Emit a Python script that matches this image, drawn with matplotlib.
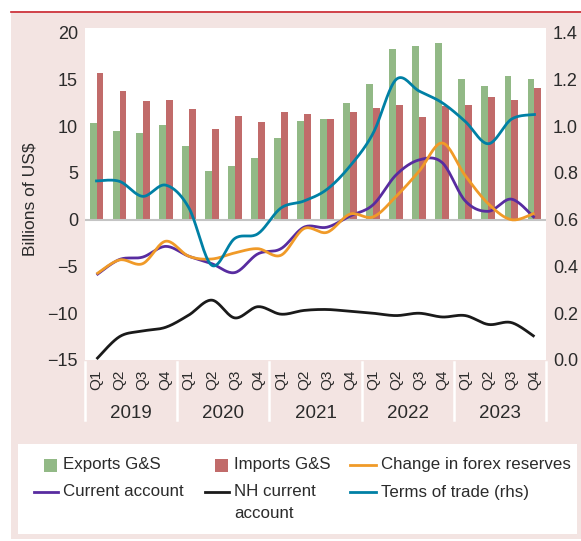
import numpy as np
import matplotlib
matplotlib.use('Agg')
import matplotlib.pyplot as plt
from matplotlib.patches import Rectangle
from matplotlib.lines import Line2D
import matplotlib.transforms as mtransforms

plt.rcParams['font.family'] = ['Liberation Sans', 'DejaVu Sans']

# data, quarterly 2019Q1 - 2023Q4
years = ['2019', '2020', '2021', '2022', '2023']
quarters = ['Q1', 'Q2', 'Q3', 'Q4'] * 5

exports = [10.3, 9.5, 9.3, 10.1, 7.9, 5.2, 5.7, 6.6, 8.7, 10.6,
           10.8, 12.5, 14.5, 18.3, 18.6, 18.9, 15.0, 14.3, 15.4, 15.0]
imports = [15.7, 13.8, 12.7, 12.8, 11.8, 9.7, 11.1, 10.5, 11.5, 11.3,
           10.8, 11.5, 11.9, 12.3, 11.0, 12.2, 12.3, 13.1, 12.8, 14.1]
current_account = [-5.9, -4.25, -4.0, -2.85, -3.9, -4.7, -5.65, -3.65, -3.1, -0.8,
                   -0.8, 0.4, 1.6, 4.8, 6.4, 6.1, 2.0, 0.9, 2.2, 0.2]
forex = [-5.8, -4.3, -4.7, -2.3, -3.9, -4.2, -3.55, -3.1, -3.8, -0.95,
         -1.35, 0.6, 0.3, 2.5, 5.2, 8.2, 4.7, 1.7, 0.0, 0.7]
nh_current = [-14.9, -12.5, -11.9, -11.5, -10.2, -8.6, -10.5, -9.3, -10.1, -9.7,
              -9.6, -9.8, -10.0, -10.25, -10.0, -10.4, -10.25, -11.2, -11.0, -12.5]
terms_of_trade = [0.766, 0.764, 0.70, 0.748, 0.652, 0.405, 0.52, 0.54, 0.65, 0.68,
                  0.73, 0.83, 0.97, 1.20, 1.15, 1.10, 1.02, 0.925, 1.03, 1.05]

bg = '#f3e4e2'
txt = '#2b2b2b'
c_exp = '#92b986'
c_imp = '#c16b6a'
c_ca = '#582ca0'
c_fx = '#f09a28'
c_nh = '#1a1a1a'
c_tot = '#0080a5'

W, H = 581, 541


def px(x):
    return x / W


def py(y):
    return 1 - y / H


def smooth(y, n=20):
    # catmull-rom through the points, like a smoothed line
    y = np.asarray(y, dtype=float)
    x = np.arange(len(y), dtype=float)
    P = np.column_stack([x, y])
    P = np.vstack([P[0], P, P[-1]])
    out = []
    t = np.linspace(0, 1, n, endpoint=False)[:, None]
    for i in range(1, len(P) - 2):
        p0, p1, p2, p3 = P[i - 1], P[i], P[i + 1], P[i + 2]
        seg = 0.5 * ((2 * p1) + (-p0 + p2) * t + (2 * p0 - 5 * p1 + 4 * p2 - p3) * t ** 2
                     + (-p0 + 3 * p1 - 3 * p2 + p3) * t ** 3)
        out.append(seg)
    out.append(P[-2][None, :])
    out = np.vstack(out)
    return out[:, 0], out[:, 1]


fig = plt.figure(figsize=(5.81, 5.41), dpi=100)
fig.patch.set_facecolor('white')

# pink panel and red rule
fig.add_artist(Rectangle((px(11), py(539)), px(581) - px(11), py(13) - py(539),
                         transform=fig.transFigure, facecolor=bg, edgecolor='none', zorder=-10))
fig.add_artist(Line2D([px(11), px(581)], [py(12), py(12)], transform=fig.transFigure,
                      color='#c8202a', lw=1.2))

ax = fig.add_axes([px(85), py(360), px(546) - px(85), py(28) - py(360)])
ax.set_facecolor('white')
x = np.arange(len(exports))
w = 0.3
ax.bar(x - w / 2, exports, width=w, color=c_exp, zorder=2)
ax.bar(x + w / 2, imports, width=w, color=c_imp, zorder=2)
ax.axhline(0, color='#c4c4c4', lw=1.5, zorder=3)

for series, col in [(nh_current, c_nh), (current_account, c_ca), (forex, c_fx)]:
    sx, sy = smooth(series)
    ax.plot(sx, sy, color=col, lw=2, zorder=4, solid_capstyle='butt')

ax.set_xlim(-0.5, len(exports) - 0.5)
ax.set_ylim(-15, 20.5)
ax.set_yticks([-15, -10, -5, 0, 5, 10, 15, 20])
ax.set_yticklabels(['\u221215', '\u221210', '\u22125', '0', '5', '10', '15', '20'])
ax.set_xticks(x)
ax.set_xticklabels(quarters, rotation=90, fontsize=11, color=txt)
ax.tick_params(axis='y', length=0, pad=5, labelsize=13, labelcolor=txt)
ax.tick_params(axis='x', length=0, pad=7)
for s in ax.spines.values():
    s.set_visible(False)

ax2 = ax.twinx()
sx, sy = smooth(terms_of_trade)
ax2.plot(sx, sy, color=c_tot, lw=2, zorder=5)
ax2.set_ylim(0, 1.42)
ax2.set_yticks([0.0, 0.2, 0.4, 0.6, 0.8, 1.0, 1.2, 1.4])
ax2.set_yticklabels(['0.0', '0.2', '0.4', '0.6', '0.8', '1.0', '1.2', '1.4'])
ax2.tick_params(axis='y', length=0, pad=5, labelsize=13, labelcolor=txt)
for s in ax2.spines.values():
    s.set_visible(False)

# year groups under the quarter labels
trans = mtransforms.blended_transform_factory(ax.transData, fig.transFigure)
for b in [-0.5, 3.5, 7.5, 11.5, 15.5, 19.5]:
    ax.add_artist(Line2D([b, b], [py(362), py(420)], transform=trans, color='white',
                         lw=1.8, clip_on=False))
for i, yr in enumerate(years):
    ax.text(4 * i + 1.5, py(414), yr, transform=trans, ha='center', va='center',
            fontsize=13.5, color=txt)

fig.text(px(30), py(199), 'Billions of US$', rotation=90, ha='center', va='center',
         fontsize=12.5, color=txt)

# legend box
fig.add_artist(Rectangle((px(18), py(534)), px(577) - px(18), py(444) - py(534),
                         transform=fig.transFigure, facecolor='white', edgecolor='none'))
lfs = 12.2
sq = 13
for cx, col, lab in [(50, c_exp, 'Exports G&S'), (221, c_imp, 'Imports G&S')]:
    fig.add_artist(Rectangle((px(cx - sq / 2), py(465 + sq / 2)), px(sq), sq / H,
                             transform=fig.transFigure, facecolor=col, edgecolor='none'))
    fig.text(px(cx + 13), py(465), lab, ha='left', va='center', fontsize=lfs, color=txt)
for x0, x1, yy, col, lab in [(350, 376, 465, c_fx, 'Change in forex reserves'),
                             (34, 58, 492, c_ca, 'Current account'),
                             (205, 229, 492, c_nh, 'NH current'),
                             (350, 376, 492, c_tot, 'Terms of trade (rhs)')]:
    fig.add_artist(Line2D([px(x0), px(x1)], [py(yy), py(yy)], transform=fig.transFigure,
                          color=col, lw=2))
    fig.text(px(x1 + 5), py(yy), lab, ha='left', va='center', fontsize=lfs, color=txt)
fig.text(px(234), py(514), 'account', ha='left', va='center', fontsize=lfs, color=txt)

fig.savefig('out.png', dpi=100, facecolor=fig.get_facecolor())
